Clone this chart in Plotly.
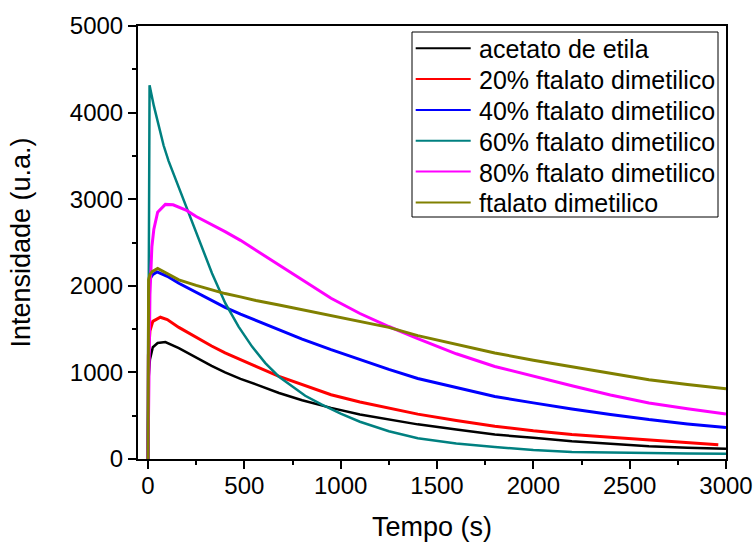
import plotly.graph_objects as go

# ---- data ----
names = ["acetato de etila", "20% ftalato dimetilico", "40% ftalato dimetilico",
         "60% ftalato dimetilico", "80% ftalato dimetilico", "ftalato dimetilico"]
colors = ["#000000", "#FF0000", "#0000FF", "#008080", "#FF00FF", "#808000"]

t_black = [0, 2, 10, 25, 50, 90, 160, 250, 330, 400, 480, 560, 680, 800, 950, 1100,
           1250, 1400, 1600, 1800, 2000, 2200, 2400, 2600, 2800, 3000]
i_black = [0, 900, 1150, 1290, 1340, 1350, 1280, 1170, 1075, 1000, 925, 862, 762, 678, 590,
           515, 455, 400, 340, 282, 245, 205, 175, 147, 130, 118]

t_red = [0, 2, 10, 25, 64, 100, 160, 250, 330, 400, 480, 560, 680, 800, 950, 1100,
         1250, 1400, 1600, 1800, 2000, 2200, 2400, 2600, 2800, 2960]
i_red = [0, 1200, 1480, 1590, 1637, 1610, 1520, 1405, 1305, 1225, 1145, 1070, 955, 860, 742,
         658, 584, 518, 445, 378, 325, 282, 250, 222, 190, 165]

t_blue = [0, 3, 10, 25, 47, 100, 160, 250, 330, 400, 480, 560, 680, 800, 950, 1100,
          1250, 1400, 1600, 1800, 2000, 2200, 2400, 2600, 2800, 3000]
i_blue = [0, 1900, 2080, 2130, 2160, 2110, 2029, 1925, 1830, 1752, 1672, 1598, 1490, 1385, 1262,
          1146, 1035, 930, 826, 722, 648, 577, 515, 455, 405, 364]

t_teal = [0, 5, 8, 30, 55, 81, 107, 159, 211, 263, 332, 401, 470, 540, 609, 678, 747, 816, 900,
          1000, 1100, 1250, 1400, 1600, 1800, 2000, 2200, 2400, 2600, 2800, 3000]
i_teal = [0, 4200, 4316, 4080, 3840, 3620, 3440, 3143, 2837, 2529, 2145, 1799, 1529, 1298, 1107,
          953, 837, 730, 630, 525, 430, 320, 240, 180, 138, 105, 82, 74, 69, 64, 61]

t_mag = [0, 10, 20, 30, 50, 90, 130, 200, 250, 330, 400, 480, 560, 680, 800, 950, 1100,
         1250, 1400, 1600, 1800, 2000, 2200, 2400, 2600, 2800, 3000]
i_mag = [0, 1900, 2450, 2650, 2850, 2940, 2935, 2870, 2800, 2710, 2625, 2525, 2415, 2240, 2070,
         1856, 1680, 1530, 1390, 1215, 1068, 955, 845, 740, 646, 580, 519]

t_olive = [0, 3, 10, 21, 50, 100, 160, 250, 330, 400, 480, 560, 680, 800, 950, 1100, 1250,
           1400, 1600, 1800, 2000, 2200, 2400, 2600, 2800, 3000]
i_olive = [0, 2070, 2130, 2163, 2200, 2140, 2068, 2005, 1952, 1910, 1872, 1830, 1779, 1725,
           1660, 1595, 1520, 1425, 1325, 1225, 1140, 1065, 990, 915, 860, 811]

series_t = [t_black, t_red, t_blue, t_teal, t_mag, t_olive]
series_i = [i_black, i_red, i_blue, i_teal, i_mag, i_olive]
widths = [2.5, 3, 3, 2.5, 3, 3]

x_ticks = [0, 500, 1000, 1500, 2000, 2500, 3000]
y_ticks = [0, 1000, 2000, 3000, 4000, 5000]

FONT = "Liberation Sans, Arial, sans-serif"

# plot area geometry (pixels) for the hand-drawn legend box
W, H = 755, 543
ML, MR, MT, MB = 138, 29, 26, 84
PW, PH = W - ML - MR, H - MT - MB


def px_x(p):
    return (p - ML) / PW


def px_y(p):
    return (H - MB - p) / PH


fig = go.Figure()
for n, c, tx, iy, w in zip(names, colors, series_t, series_i, widths):
    fig.add_trace(go.Scatter(x=tx, y=iy, mode="lines", name=n,
                             line=dict(color=c, width=w), showlegend=False))

axis_common = dict(showline=True, linecolor="black", linewidth=2, mirror=True,
                   ticks="outside", ticklen=8, tickwidth=2, tickcolor="black",
                   showgrid=False, zeroline=False, automargin=False,
                   tickfont=dict(family=FONT, size=24, color="black"))

fig.update_xaxes(range=[-52, 3000], tickvals=x_ticks, ticktext=[str(v) for v in x_ticks],
                 minor=dict(ticks="outside", ticklen=4, tickwidth=2, tickcolor="black", dtick=250,
                            tick0=0, showgrid=False),
                 ticklabelstandoff=-4,
                 title=dict(text="Tempo (s)", font=dict(family=FONT, size=27, color="black"),
                            standoff=19),
                 **axis_common)
fig.update_yaxes(range=[0, 5000], tickvals=y_ticks, ticktext=[str(v) for v in y_ticks],
                 minor=dict(ticks="outside", ticklen=4, tickwidth=2, tickcolor="black", dtick=500,
                            tick0=0, showgrid=False),
                 title=dict(text="Intensidade (u.a.)", font=dict(family=FONT, size=27, color="black"),
                            standoff=31),
                 **axis_common)

# legend drawn inside the plot, like the original
shapes = [dict(type="rect", xref="paper", yref="paper",
               x0=px_x(412), x1=px_x(718), y0=px_y(217), y1=px_y(32),
               line=dict(color="black", width=1), fillcolor="white", layer="above")]
annotations = []
row_y = [48.3, 79.1, 110.0, 140.8, 171.6, 202.4]
for n, c, ry in zip(names, colors, row_y):
    shapes.append(dict(type="line", xref="paper", yref="paper",
                       x0=px_x(415.7), x1=px_x(470.7), y0=px_y(ry), y1=px_y(ry),
                       line=dict(color=c, width=2), layer="above"))
    annotations.append(dict(xref="paper", yref="paper", x=px_x(477), y=px_y(ry + 1),
                            text=n, showarrow=False, xanchor="left", yanchor="middle",
                            font=dict(family=FONT, size=25, color="black")))

fig.update_layout(
    width=W, height=H,
    margin=dict(l=ML, r=MR, t=MT, b=MB),
    paper_bgcolor="white", plot_bgcolor="white",
    showlegend=False,
    shapes=shapes, annotations=annotations,
    font=dict(family=FONT),
)

fig.write_html("out.html")
